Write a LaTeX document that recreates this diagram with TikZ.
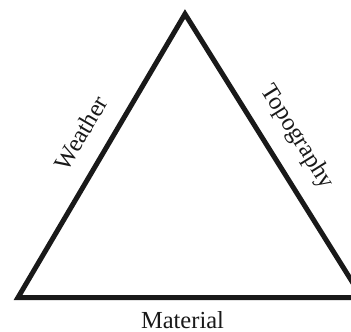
\documentclass[tikz,border=0pt]{standalone}
\usepackage{fontspec}
\setmainfont{Liberation Serif}
\begin{document}
\begin{tikzpicture}[x=1pt,y=-1pt,
  edge/.style={line width=5pt,line join=miter,black!90},
  lbl/.style={font=\fontsize{24.5}{29}\selectfont,inner sep=0pt,text=black!90}]
\useasboundingbox (0,0) rectangle (351,332);
\clip (0,0) rectangle (351,332);
\coordinate (top) at (185,14);
\coordinate (bl) at (18,297.5);
\coordinate (br) at (362,297.5);
\draw[edge] (top) -- (bl) -- (br) -- cycle;
\node[lbl,rotate=59.5] (weather) at (81,133) {Weather};
\node[lbl,rotate=-58] (topo) at (297,137) {Topography};
\node[lbl,anchor=base] (material) at (182.5,328) {Material};
\end{tikzpicture}
\end{document}
